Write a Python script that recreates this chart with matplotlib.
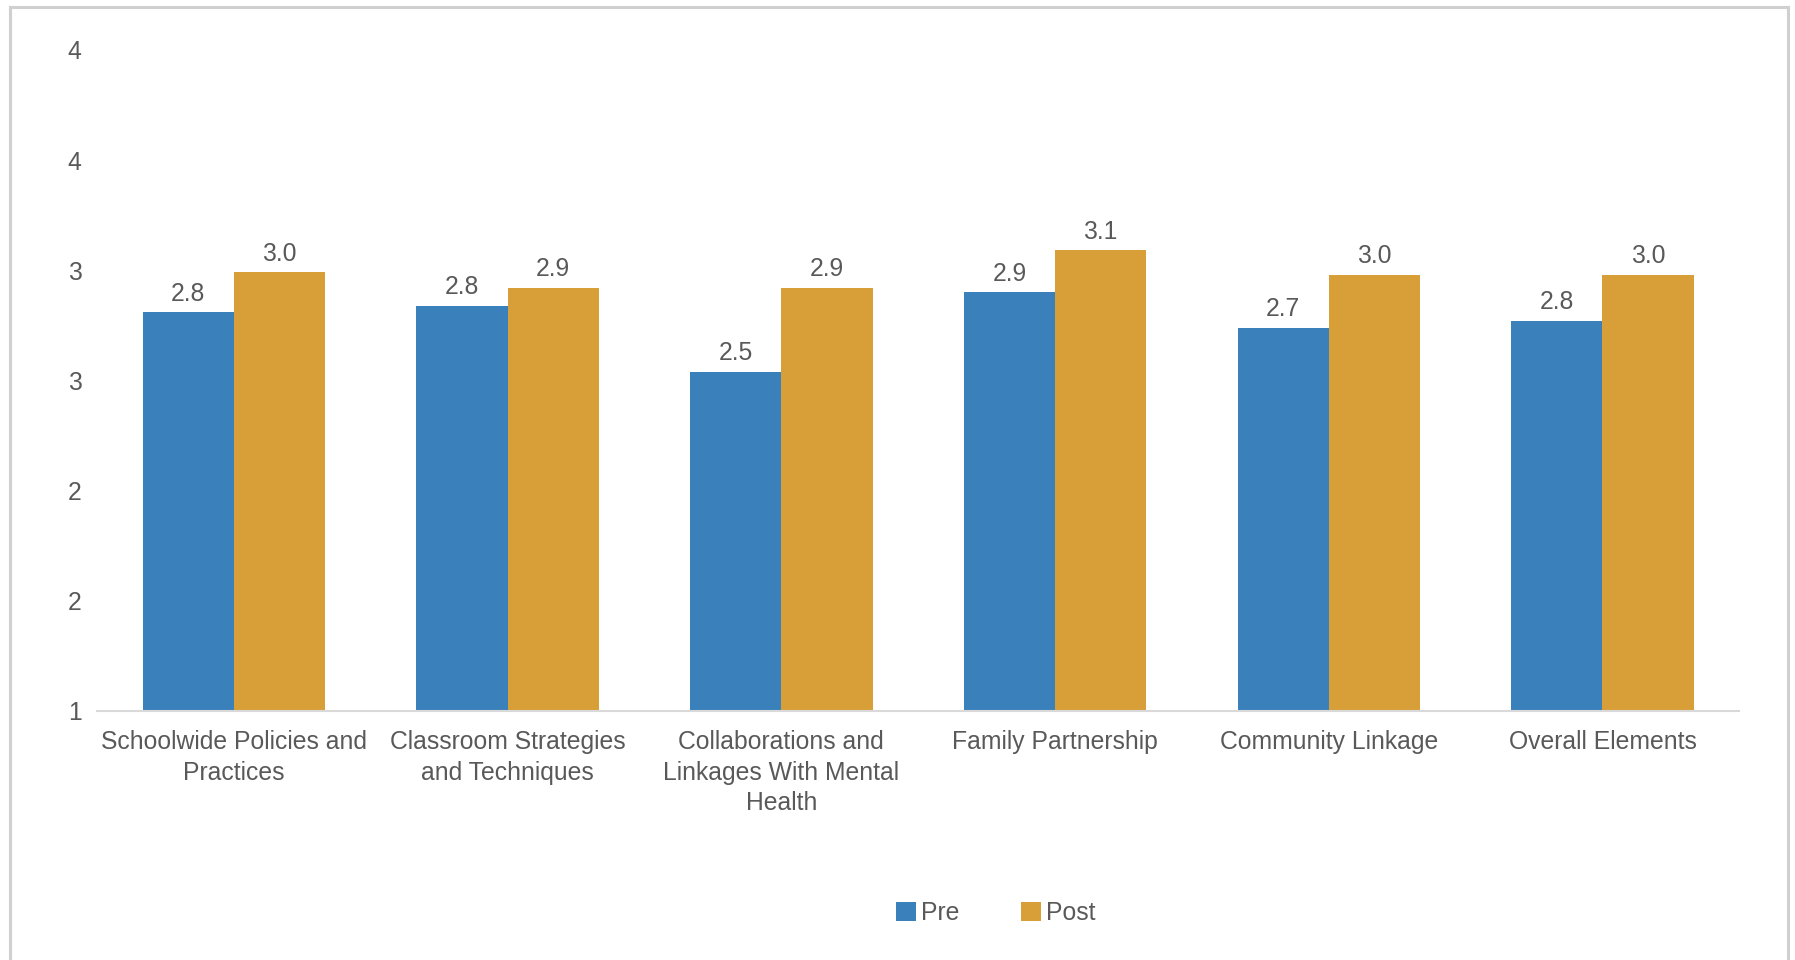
import numpy as np
import matplotlib.pyplot as plt
from matplotlib.lines import Line2D

plt.rcParams['font.family'] = ['Liberation Sans', 'DejaVu Sans']

categories = ['Schoolwide Policies and\nPractices',
              'Classroom Strategies\nand Techniques',
              'Collaborations and\nLinkages With Mental\nHealth',
              'Family Partnership',
              'Community Linkage',
              'Overall Elements']
pre = [2.81, 2.84, 2.54, 2.90, 2.74, 2.77]
post = [2.99, 2.92, 2.92, 3.09, 2.98, 2.98]
yticks = [1, 1.5, 2, 2.5, 3, 3.5, 4]
ytick_labels = ['1', '2', '2', '3', '3', '4', '4']

blue = '#3A80BA'
orange = '#D89F39'
txt = '#595959'
fs = 17.8

fig = plt.figure(figsize=(17.95, 9.6), dpi=100)
ax = fig.add_axes([0.054, 0.2594, 0.915, 0.6886])

x = np.arange(len(categories))
w = 1 / 3
b1 = ax.bar(x - w / 2, pre, w, bottom=0, color=blue, label='Pre')
b2 = ax.bar(x + w / 2, post, w, bottom=0, color=orange, label='Post')

for bars in (b1, b2):
    for r in bars:
        h = r.get_height()
        ax.text(r.get_x() + r.get_width() / 2, h + 0.03, f'{h:.1f}',
                ha='center', va='bottom', fontsize=fs, color=txt)

ax.set_ylim(1, 4)
ax.set_xlim(-0.5, len(categories) - 0.5)
ax.set_yticks(yticks)
ax.set_yticklabels(ytick_labels)
ax.set_xticks(x)
ax.set_xticklabels(categories, linespacing=1.33)
ax.tick_params(axis='y', length=0, pad=11, labelsize=fs, labelcolor=txt)
ax.tick_params(axis='x', length=0, pad=14, labelsize=fs, labelcolor=txt)
for s in ['top', 'right', 'left']:
    ax.spines[s].set_visible(False)
ax.spines['bottom'].set_color('#D9D9D9')
ax.spines['bottom'].set_linewidth(1.5)

fig.legend(handles=[b1, b2], labels=['Pre', 'Post'], loc='center',
           bbox_to_anchor=(996 / 1795, 1 - 913 / 960), ncol=2, frameon=False,
           fontsize=fs, labelcolor=txt, handlelength=0.8, handleheight=0.8,
           handletextpad=0.2, columnspacing=2.5)

# outer frame
fc = '#D0D0D0'
fig.add_artist(Line2D([9.5 / 1795, 9.5 / 1795], [0, 1 - 6.5 / 960], color=fc, lw=2.2))
fig.add_artist(Line2D([9.5 / 1795, 1787.5 / 1795], [1 - 6.5 / 960, 1 - 6.5 / 960], color=fc, lw=2.2))
fig.add_artist(Line2D([1787.5 / 1795, 1787.5 / 1795], [0, 1 - 6.5 / 960], color=fc, lw=2.2))

fig.savefig('out.png', dpi=100, facecolor='white')
